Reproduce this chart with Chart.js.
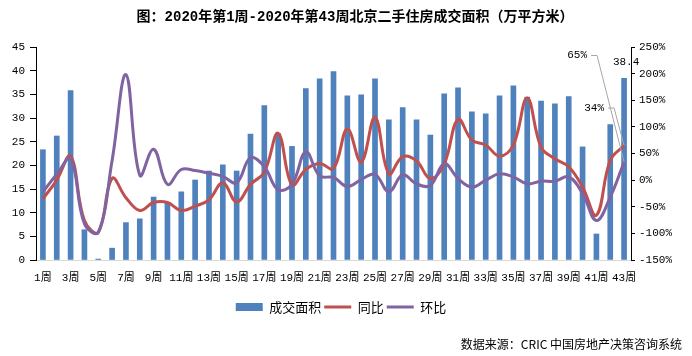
<!DOCTYPE html>
<html><head><meta charset="utf-8">
<script src="https://cdn.jsdelivr.net/npm/chart.js@4.4.1/dist/chart.umd.min.js"></script>
<style>html,body{margin:0;padding:0;background:#fff;}</style>
</head><body>
<canvas id="c" width="692" height="356"></canvas>
<script>
const categories = ['1周','2周','3周','4周','5周','6周','7周','8周','9周','10周','11周','12周','13周','14周','15周','16周','17周','18周','19周','20周','21周','22周','23周','24周','25周','26周','27周','28周','29周','30周','31周','32周','33周','34周','35周','36周','37周','38周','39周','40周','41周','42周','43周'];
const areaValues = [23.3,26.2,35.8,6.4,0.2,2.5,7.9,8.7,13.3,12.2,14.4,16.9,18.8,20.1,18.8,26.6,32.6,26.7,24.0,36.2,38.3,39.8,34.7,34.9,38.3,29.6,32.2,29.6,26.4,35.1,36.4,31.3,30.9,34.7,36.8,34.4,33.6,33.0,34.5,23.9,5.5,28.6,38.4];
const yoyValues = [-35,0,45,-76,-98,3,-33,-57,-42,-42,-57,-49,-37,-5,-41,-8,15,88,-9,20,31,22,96,34,118,12,44,36,3,30,114,75,66,45,66,154,62,40,25,-13,-66,37,65];
const momValues = [-22,11,40,-82,-98,37,198,9,58,-8,20,18,13,7,-5,42,25,-18,-8,53,8,5,-12,1,11,-22,10,-7,-10,31,3,-13,0,12,6,-7,-2,-2,6,-25,-76,-32,34];
const leftAxis = {min:0, max:45, step:5};
const rightAxis = {min:-150, max:250, step:50};
const seriesNames = ['成交面积','同比','环比'];
const titleText = '图：2020年第1周-2020年第43周北京二手住房成交面积（万平方米）';
const sourceText = '数据来源：CRIC 中国房地产决策咨询系统';

const MONO = '"Liberation Mono", "Noto Sans CJK SC", monospace';
const CJK = '"Noto Sans CJK SC", sans-serif';
const COLORS = ['#4F81BD','#C0504D','#8064A2'];

const labelPlugin = {
  id: 'lastLabels',
  afterLayout(chart) {
    if (chart.titleBlock) { chart.titleBlock.left += 28; }
  },
  afterDatasetsDraw(chart) {
    const ctx = chart.ctx;
    const n = categories.length - 1;
    const bar = chart.getDatasetMeta(0).data[n];
    const red = chart.getDatasetMeta(1).data[n];
    const pur = chart.getDatasetMeta(2).data[n];
    ctx.save();
    ctx.font = '11px ' + MONO;
    ctx.fillStyle = '#000';
    ctx.textBaseline = 'middle';
    ctx.textAlign = 'center';
    ctx.fillText(String(areaValues[n]), bar.x + 2, bar.y - 16);
    ctx.strokeStyle = '#a6a6a6';
    ctx.lineWidth = 1;
    const t1x = red.x - 47, t1y = red.y - 90;
    ctx.fillText(yoyValues[n] + '%', t1x, t1y);
    ctx.beginPath();
    ctx.moveTo(t1x + 14, t1y); ctx.lineTo(t1x + 20, t1y); ctx.lineTo(pur.x, pur.y);
    ctx.stroke();
    const t2x = pur.x - 30, t2y = pur.y - 54;
    ctx.fillText(momValues[n] + '%', t2x, t2y);
    ctx.beginPath();
    ctx.moveTo(t2x + 14, t2y); ctx.lineTo(t2x + 20, t2y); ctx.lineTo(red.x, red.y);
    ctx.stroke();
    ctx.restore();
  }
};

new Chart(document.getElementById('c'), {
  data: {
    labels: categories,
    datasets: [
      {type:'bar', label:seriesNames[0], data:areaValues, backgroundColor:COLORS[0], yAxisID:'y', order:3, barThickness:5},
      {type:'line', label:seriesNames[1], data:yoyValues, borderColor:COLORS[1], backgroundColor:COLORS[1], borderWidth:3, pointRadius:0, tension:0.4, yAxisID:'y1', order:2},
      {type:'line', label:seriesNames[2], data:momValues, borderColor:COLORS[2], backgroundColor:COLORS[2], borderWidth:3, pointRadius:0, tension:0.4, yAxisID:'y1', order:1}
    ]
  },
  options: {
    responsive:false, animation:false, devicePixelRatio:1,
    layout:{padding:{left:0,right:10,top:0,bottom:0}},
    plugins:{
      title:{display:true, text:titleText, color:'#000', font:{family:MONO, size:14, weight:'bold'}, padding:{top:9,bottom:21.2}},
      subtitle:{display:true, position:'bottom', align:'end', text:sourceText, color:'#000', font:{family:CJK, size:12}, padding:{top:13.3,bottom:4.8}},
      legend:{position:'bottom', labels:{usePointStyle:true, pointStyleWidth:27, boxWidth:27, boxHeight:8, padding:3, color:'#000', font:{family:CJK, size:13},
        generateLabels:(chart)=>chart.data.datasets.map((ds,i)=>({text:ds.label, fillStyle:ds.backgroundColor, strokeStyle:ds.borderColor || ds.backgroundColor, lineWidth:i===0?0:3, pointStyle:i===0?'rect':'line', hidden:!chart.isDatasetVisible(i), datasetIndex:i, fontColor:'#000'}))}},
      tooltip:{enabled:false}
    },
    scales:{
      x:{grid:{display:false, drawTicks:false}, border:{color:'#d9d9d9'}, ticks:{autoSkip:false, maxRotation:0, minRotation:0, padding:11, color:'#000', font:{family:MONO, size:11}, callback:(v,i)=> i%2===0 ? categories[i] : ''}, afterFit:(s)=>{s.height=37.5;}},
      y:{position:'left', min:leftAxis.min, max:leftAxis.max, ticks:{stepSize:leftAxis.step, padding:5, color:'#000', font:{family:MONO, size:11}}, grid:{drawOnChartArea:false, color:'#000', tickLength:6}, border:{color:'#000'}, afterFit:(s)=>{s.width=36;}},
      y1:{position:'right', min:rightAxis.min, max:rightAxis.max, ticks:{stepSize:rightAxis.step, padding:4, color:'#000', font:{family:MONO, size:11}, callback:(v)=>v+'%'}, grid:{drawOnChartArea:false, color:'#000', tickLength:4}, border:{color:'#000'}, afterFit:(s)=>{s.width=51;}}
    }
  },
  plugins:[labelPlugin]
});
</script>
</body></html>
